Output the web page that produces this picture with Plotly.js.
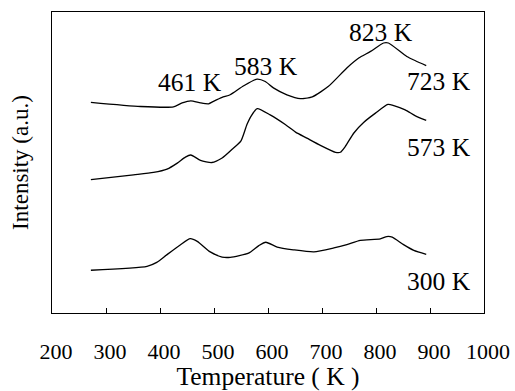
<!DOCTYPE html>
<html>
<head>
<meta charset="utf-8">
<script src="https://cdn.plot.ly/plotly-3.0.1.min.js"></script>
<style>html,body{margin:0;padding:0;background:#fff;}#chart{width:515px;height:391px;}</style>
</head>
<body>
<div id="chart"></div>
<script>
// Series: intensity profiles (arbitrary units) vs temperature (K)
const temp300 = [272, 376, 394, 413, 438, 456, 469, 493, 515, 530, 564, 583, 596, 617, 647, 685, 722, 746, 771, 808, 820, 830, 851, 870, 893];
const int300  = [14.2, 15.5, 16.8, 19.4, 22.7, 24.7, 23.8, 20.3, 18.6, 18.5, 19.9, 22.4, 23.5, 21.9, 21.0, 20.3, 21.6, 22.7, 24.1, 24.6, 25.4, 25.2, 22.7, 20.8, 19.5];

const temp573 = [272, 351, 388, 413, 432, 447, 457, 475, 496, 515, 533, 550, 561, 569, 580, 604, 632, 651, 672, 697, 725, 734, 743, 759, 777, 799, 822, 833, 854, 873, 893];
const int573  = [44.3, 45.9, 46.7, 47.8, 49.8, 51.8, 52.5, 50.7, 50.0, 51.5, 54.3, 57.2, 62.6, 65.5, 67.9, 65.8, 62.6, 60.1, 58.1, 55.7, 53.4, 53.4, 55.3, 59.8, 63.3, 66.4, 69.3, 68.9, 67.5, 65.5, 64.0];

const temp723 = [272, 364, 425, 441, 457, 475, 490, 499, 515, 530, 555, 580, 595, 610, 635, 660, 682, 712, 746, 768, 790, 814, 823, 857, 873, 893];
const int723  = [70.0, 68.6, 68.5, 69.8, 70.5, 69.8, 69.5, 70.3, 71.6, 72.5, 75.5, 77.7, 76.9, 74.8, 72.5, 71.2, 71.8, 75.3, 81.4, 84.7, 86.9, 89.7, 89.7, 85.2, 83.8, 82.2];

const seriesNames = ['300 K', '573 K', '723 K'];
const peakLabels = ['461 K', '583 K', '823 K'];
const xTickVals = [200, 300, 400, 500, 600, 700, 800, 900, 1000];
const xTickText = ['200', '300', '400', '500', '600', '700', '800', '900', '1000'];

const FONT = 'Liberation Serif, Times New Roman, serif';
const lineStyle = {color: '#000', width: 1.3, shape: 'spline', smoothing: 0.6};

const traces = [
  {x: temp300, y: int300, name: seriesNames[0]},
  {x: temp573, y: int573, name: seriesNames[1]},
  {x: temp723, y: int723, name: seriesNames[2]}
].map(t => Object.assign(t, {type: 'scatter', mode: 'lines', line: lineStyle, hoverinfo: 'skip'}));

const annFont = {family: FONT, size: 25.5, color: '#000'};
const ann = (text, x, y) => ({text, x, y, xref: 'x', yref: 'y', showarrow: false, font: annFont, xanchor: 'center', yanchor: 'middle'});

const layout = {
  width: 515, height: 391,
  margin: {l: 52, r: 31, t: 12, b: 78},
  paper_bgcolor: '#fff', plot_bgcolor: '#fff',
  showlegend: false,
  font: {family: FONT, color: '#000'},
  xaxis: {
    range: [200, 1000], tickmode: 'array', tickvals: xTickVals, ticktext: xTickText,
    ticks: 'inside', ticklen: 5, tickwidth: 1, tickcolor: '#000',
    showline: true, mirror: true, linecolor: '#000', linewidth: 1.2,
    showgrid: false, zeroline: false,
    tickfont: {family: FONT, size: 22, color: '#000'},
    ticklabelstandoff: 18, ticklabelshift: 4,
    title: {text: 'Temperature ( K )', font: {family: FONT, size: 25.5, color: '#000'}, standoff: 4},
    automargin: false
  },
  yaxis: {
    range: [0, 100], showticklabels: false, ticks: '',
    showline: true, mirror: true, linecolor: '#000', linewidth: 1.2,
    showgrid: false, zeroline: false,
    title: {text: 'Intensity (a.u.)', font: {family: FONT, size: 23, color: '#000'}, standoff: 15},
    automargin: false
  },
  annotations: [
    ann(peakLabels[0], 455, 76.6),
    ann(peakLabels[1], 597, 81.8),
    ann(peakLabels[2], 810, 93.2),
    ann(seriesNames[2], 916, 77.0),
    ann(seriesNames[1], 916, 55.0),
    ann(seriesNames[0], 916, 10.6)
  ]
};

Plotly.newPlot('chart', traces, layout, {staticPlot: true, displayModeBar: false});
</script>
</body>
</html>
